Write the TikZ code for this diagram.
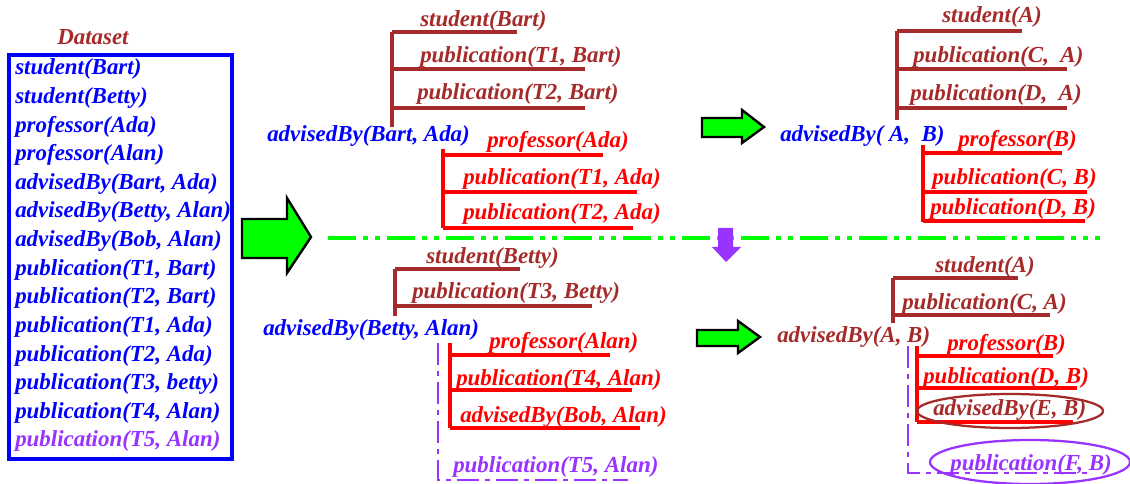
\documentclass[tikz,border=0pt]{standalone}
\usepackage{fontspec}
\setmainfont{Liberation Serif}
\definecolor{brn}{RGB}{165,42,42}
\definecolor{pur}{RGB}{153,51,255}
\definecolor{grn}{RGB}{0,255,0}
\tikzset{
  fact/.style={font=\bfseries\itshape\fontsize{17.2}{20}\selectfont, inner sep=0pt, anchor=base west},
  bar/.style={line width=2.3pt},
  fatarrow/.style={draw=black, fill=grn, line width=1.8pt, line join=miter},
  dashdot/.style={pur, line width=1.9pt, dash pattern=on 16.5pt off 4.5pt on 3.75pt off 4.5pt},
}

\begin{document}
\begin{tikzpicture}[x=0.75pt,y=-0.75pt]
\useasboundingbox (0,0) rectangle (1130,484);

% dataset
\node[fact, brn] (ds) at (57,45) {Dataset};
\draw[blue, line width=2.4pt] (9,55) rectangle (232,459);
\foreach \i/\txt in {1/student(Bart), 2/student(Betty), 3/professor(Ada), 4/professor(Alan),
    5/{advisedBy(Bart, Ada)}, 6/{advisedBy(Betty, Alan)}, 7/{advisedBy(Bob, Alan)},
    8/{publication(T1, Bart)}, 9/{publication(T2, Bart)}, 10/{publication(T1, Ada)},
    11/{publication(T2, Ada)}, 12/{publication(T3, betty)}, 13/{publication(T4, Alan)}}
  \node[fact, blue] (d\i) at (15,{75+28.6*(\i-1)}) {\txt};
\node[fact, pur] (d14) at (15,446.8) {publication(T5, Alan)};

\draw[fatarrow] (242,219) -- (287,219) -- (287,198) -- (311,237) -- (287,273) -- (287,258) -- (242,258) -- cycle;
\draw[grn, line width=2.6pt, dash pattern=on 21pt off 5.25pt on 3.75pt off 5.25pt on 3.75pt off 5.25pt] (328,238) -- (1100,238);
\fill[pur] (718,228) -- (733,228) -- (733,247) -- (741,247) -- (726,262) -- (712,247) -- (718,247) -- cycle;

% top middle
\node[fact, blue] (r1) at (267,142) {advisedBy(Bart, Ada)};
\draw[bar, brn] (392,32) -- (392,127);
\foreach \n/\x/\y/\l/\e/\txt in {a1/420/27/32/517/student(Bart),
    a2/420/63/69/585/{publication(T1, Bart)}, a3/417/100/108/585/{publication(T2, Bart)}}
  {\node[fact, brn] (\n) at (\x,\y) {\txt};
   \draw[bar, brn] (392,\l) -- (\e,\l);}
\draw[bar, red] (443,149) -- (443,228);
\foreach \n/\x/\y/\l/\e/\txt in {a4/487/148/155/603/professor(Ada),
    a5/463/185/192/637/{publication(T1, Ada)}, a6/463/220/228/633/{publication(T2, Ada)}}
  {\node[fact, red] (\n) at (\x,\y) {\txt};
   \draw[bar, red] (443,\l) -- (\e,\l);}

% bottom middle
\node[fact, blue] (r2) at (263,335) {advisedBy(Betty, Alan)};
\draw[bar, brn] (395,269) -- (395,316);
\foreach \n/\x/\y/\l/\e/\txt in {b1/426/264/269/520/student(Betty),
    b2/412/299/306/592/{publication(T3, Betty)}}
  {\node[fact, brn] (\n) at (\x,\y) {\txt};
   \draw[bar, brn] (395,\l) -- (\e,\l);}
\draw[bar, red] (450,343) -- (450,428);
\foreach \n/\x/\y/\l/\e/\txt in {b3/489/348/355/610/professor(Alan),
    b4/456/385/390/632/{publication(T4, Alan)}, b5/460/422/428/640/{advisedBy(Bob, Alan)}}
  {\node[fact, red] (\n) at (\x,\y) {\txt};
   \draw[bar, red] (450,\l) -- (\e,\l);}
\draw[dashdot] (438,343) -- (438,480) -- (628,480);
\node[fact, pur] (b6) at (453,472) {publication(T5, Alan)};

% top right
\draw[fatarrow] (702,118) -- (742,118) -- (742,110) -- (764,127) -- (742,143) -- (742,137) -- (702,137) -- cycle;
\node[fact, blue] (r3) at (780,142) {advisedBy(\ A,\ \ B)};
\draw[bar, brn] (897,31) -- (897,120);
\foreach \n/\x/\y/\l/\e/\txt in {c1/942/23/31/1022/student(A),
    c2/913/63/69/1067/{publication(C,\ \ A)}, c3/910/101/108/1067/{publication(D,\ \ A)}}
  {\node[fact, brn] (\n) at (\x,\y) {\txt};
   \draw[bar, brn] (897,\l) -- (\e,\l);}
\draw[bar, red] (923,145) -- (923,222);
\foreach \n/\x/\y/\l/\e/\txt in {c4/958/147/153/1062/professor(B),
    c5/932/185/192/1087/{publication(C, B)}, c6/930/215/221/1085/{publication(D, B)}}
  {\node[fact, red] (\n) at (\x,\y) {\txt};
   \draw[bar, red] (923,\l) -- (\e,\l);}

% bottom right
\draw[fatarrow] (697,330) -- (738,330) -- (738,321) -- (760,337) -- (738,353) -- (738,346) -- (697,346) -- cycle;
\node[fact, brn] (r4) at (777,342) {advisedBy(A, B)};
\draw[bar, brn] (893,278) -- (893,323);
\foreach \n/\x/\y/\l/\e/\txt in {e1/935/273/278/1018/student(A),
    e2/902/310/315/1050/{publication(C, A)}}
  {\node[fact, brn] (\n) at (\x,\y) {\txt};
   \draw[bar, brn] (893,\l) -- (\e,\l);}
\draw[bar, red] (917,346) -- (917,422);
\foreach \l/\e in {356/1053, 388/1077, 422/1073}
  \draw[bar, red] (917,\l) -- (\e,\l);
\node[fact, red] (e3) at (947,350) {professor(B)};
\node[fact, red] (e4) at (923,383) {publication(D, B)};
\node[fact, brn] (e5) at (933,415) {advisedBy(E, B)};
\draw[brn, line width=1.7pt] (1010,411) ellipse [x radius=93, y radius=17];
\draw[dashdot] (908,346) -- (908,473) -- (1093,473);
\node[fact, pur] (e6) at (950,470) {publication(F, B)};
\draw[pur, line width=1.7pt] (1030,462) ellipse [x radius=100, y radius=22];
\end{tikzpicture}
\end{document}
